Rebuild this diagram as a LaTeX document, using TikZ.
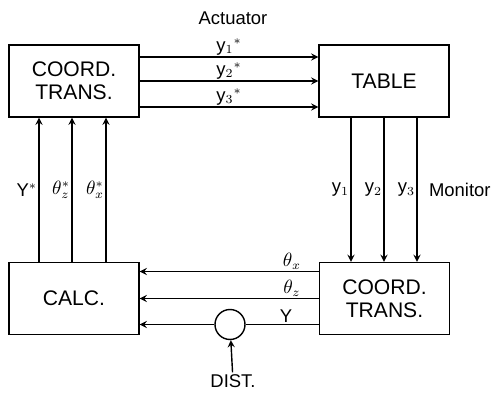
\documentclass[tikz,border=0pt]{standalone}
\usepackage{fontspec}
\setmainfont{Liberation Sans}
\usetikzlibrary{arrows}

\begin{document}
\begin{tikzpicture}[>=stealth,line width=0.8pt,
  blk/.style={draw,minimum width=2.6cm,minimum height=1.44cm,align=center,font=\fontsize{12}{13}\selectfont},
  lab/.style={font=\fontsize{10.5}{11}\selectfont,inner sep=0.8pt},
  junc/.style={draw,circle,minimum size=0.6cm,inner sep=0pt}]
  \useasboundingbox (0,0) rectangle (9.92,-7.94);
  \node[blk] (ctA) at (1.48,-1.62) {COORD.\\TRANS.};
  \node[blk] (table) at (7.68,-1.62) {TABLE};
  \node[blk] (calc) at (1.48,-5.97) {CALC.};
  \node[blk] (ctB) at (7.69,-5.97) {COORD.\\TRANS.};
  \node[junc] (sum) at (4.60,-6.49) {};
  \node[lab] (dist) at (4.66,-7.62) {DIST.};
  \node[lab] (act) at (4.66,-0.36) {Actuator};
  % actuator commands
  \draw[->] ([yshift=4.8mm]ctA.east) -- ([yshift=4.8mm]ctA.east -| table.west) node[lab,above,pos=0.5] {y$_1{}^{*}$};
  \draw[->] (ctA.east) -- (ctA.east -| table.west) node[lab,above,pos=0.5] {y$_2{}^{*}$};
  \draw[->] ([yshift=-5.2mm]ctA.east) -- ([yshift=-5.2mm]ctA.east -| table.west) node[lab,above,pos=0.5] {y$_3{}^{*}$};
  % monitor signals
  \draw[->] ([xshift=-6.6mm]table.south) -- ([xshift=-6.6mm]table.south |- ctB.north) node[lab,left,pos=0.5] {y$_1$};
  \draw[->] (table.south) -- (table.south |- ctB.north) node[lab,left,pos=0.5] {y$_2$};
  \draw[->] ([xshift=6.6mm]table.south) -- ([xshift=6.6mm]table.south |- ctB.north) node[lab,left,pos=0.5] {y$_3$} node[lab,right,pos=0.5,xshift=2mm] {Monitor};
  % measured values
  \draw[->] ([yshift=5.4mm]ctB.west) -- ([yshift=5.4mm]ctB.west -| calc.east) node[lab,above,pos=0.15] {$\theta_x$};
  \draw[->] (ctB.west) -- (ctB.west -| calc.east) node[lab,above,pos=0.15] {$\theta_z$};
  \draw (ctB.west |- sum) -- node[lab,above,pos=0.45] {Y} (sum);
  \draw[->] (sum) -- (sum -| calc.east);
  \draw[->] (dist) -- (sum);
  % references
  \draw[->] ([xshift=-7mm]calc.north) -- ([xshift=-7mm]calc.north |- ctA.south) node[lab,left,pos=0.5] {Y$^{*}$};
  \draw[->] ([xshift=-0.4mm]calc.north) -- ([xshift=-0.4mm]calc.north |- ctA.south) node[lab,left,pos=0.5] {$\theta_z^{*}$};
  \draw[->] ([xshift=6.4mm]calc.north) -- ([xshift=6.4mm]calc.north |- ctA.south) node[lab,left,pos=0.5] {$\theta_x^{*}$};
\end{tikzpicture}
\end{document}
